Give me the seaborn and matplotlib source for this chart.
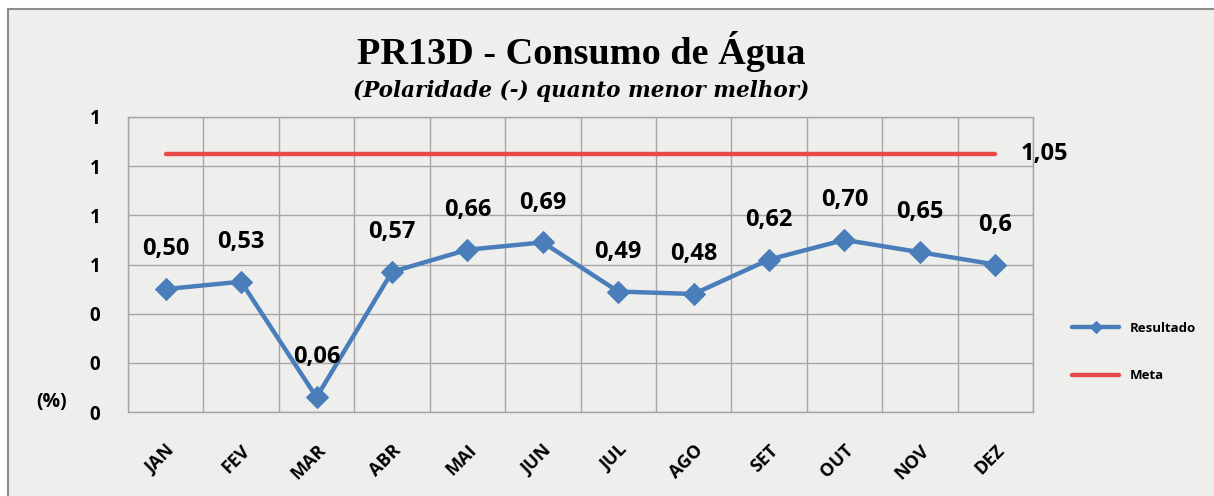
import numpy as np
import pandas as pd
import matplotlib.pyplot as plt
import matplotlib.patches as mpatches
import matplotlib.transforms as mtransforms
from matplotlib.ticker import FuncFormatter, MultipleLocator
import seaborn as sns

meses = ["JAN", "FEV", "MAR", "ABR", "MAI", "JUN", "JUL", "AGO", "SET", "OUT", "NOV", "DEZ"]
resultado = [0.50, 0.53, 0.06, 0.57, 0.66, 0.69, 0.49, 0.48, 0.62, 0.70, 0.65, 0.60]
rotulos = ["0,50", "0,53", "0,06", "0,57", "0,66", "0,69", "0,49", "0,48", "0,62", "0,70", "0,65", "0,6"]
meta = [1.05] * 12
meta_rotulo = "1,05"

df = pd.DataFrame({"mes": meses, "Resultado": resultado, "Meta": meta})

sns.set_theme(style="white")
plt.rcParams["font.family"] = ["Open Sans", "DejaVu Sans"]
plt.rcParams["text.color"] = "black"
plt.rcParams["xtick.color"] = "black"
plt.rcParams["ytick.color"] = "black"

azul = "#4a7ebb"
vermelho = "#e84a4a"
grade = "#a6a6a6"
fundo = "#eeeeec"

fig = plt.figure(figsize=(12.14, 4.96), dpi=100)
fig.patch.set_facecolor("white")
W, H = 1214, 496
fig.patches.append(mpatches.Rectangle((8 / W, -0.01), 1.0, 1.01 - 9 / H, transform=fig.transFigure,
                                      facecolor=fundo, edgecolor="#8c8c8c", linewidth=1.5, zorder=-5))

ax = fig.add_axes([128 / W, 1 - 412 / H, 905 / W, 295 / H])
ax.set_facecolor("none")

sns.lineplot(data=df, x="mes", y="Meta", color=vermelho, linewidth=3.2, ax=ax,
             label="Meta", sort=False)
sns.lineplot(data=df, x="mes", y="Resultado", color=azul, linewidth=3.2, marker="D",
             markersize=11, markeredgecolor=azul, ax=ax, label="Resultado", sort=False)

ax.set_xlim(-0.5, 11.5)
ax.set_ylim(0, 1.2)
ax.yaxis.set_major_locator(MultipleLocator(0.2))
ax.yaxis.set_major_formatter(FuncFormatter(lambda v, p: f"{v:.0f}"))
ax.set_xticks(np.arange(len(meses)))
ax.set_xticklabels(meses, rotation=45, ha="right", va="top", rotation_mode="anchor",
                   fontsize=13, fontweight="bold")
shift = mtransforms.ScaledTranslation(-5 / 100, 0, fig.dpi_scale_trans)
for lbl in ax.get_xticklabels():
    lbl.set_transform(lbl.get_transform() + shift)
ax.set_xticks(np.arange(-0.5, 12, 1), minor=True)
ax.tick_params(axis="x", which="major", length=0, pad=21)
ax.tick_params(axis="x", which="minor", length=6, color=grade, direction="out")
ax.tick_params(axis="y", length=6, color=grade, labelcolor="black", direction="out",
               labelsize=13.5, pad=14)
for lbl in ax.get_yticklabels():
    lbl.set_fontweight("bold")
ax.grid(True, which="minor", axis="x", color=grade, linewidth=1)
ax.grid(True, which="major", axis="y", color=grade, linewidth=1)
for s in ax.spines.values():
    s.set_color(grade)
    s.set_linewidth(1)
ax.set_xlabel("")
ax.set_ylabel("")

for i, (v, t) in enumerate(zip(resultado, rotulos)):
    ax.annotate(t, (i, v), xytext=(0, 20), textcoords="offset points", ha="center",
                va="bottom", fontsize=17, fontweight="bold", color="black")
ax.annotate(meta_rotulo, (11, meta[-1]), xytext=(18, 0), textcoords="offset points",
            ha="left", va="center", fontsize=17, fontweight="bold", annotation_clip=False)

fig.text(52 / W, 1 - 402 / H, "(%)", ha="center", va="center", fontsize=14, fontweight="bold")

fig.text(581 / W, 1 - 52 / H, "PR13D - Consumo de Água", ha="center", va="center",
         fontsize=27.5, fontweight="bold", family=["Liberation Serif"])
fig.text(581 / W, 1 - 91 / H, "(Polaridade (-) quanto menor melhor)", ha="center", va="center",
         fontsize=15.5, fontweight="bold", style="italic", family=["DejaVu Serif"])

handles, labels = ax.get_legend_handles_labels()
order = [labels.index("Resultado"), labels.index("Meta")]
leg = ax.legend([handles[k] for k in order], [labels[k] for k in order],
                loc="center left", bbox_to_anchor=(1060 / W, 1 - 352 / H),
                bbox_transform=fig.transFigure, frameon=False, fontsize=9.5,
                handlelength=3.6, labelspacing=2.6, markerscale=0.6)
for t in leg.get_texts():
    t.set_fontweight("bold")

fig.savefig("out.png", dpi=100, facecolor=fig.get_facecolor())
